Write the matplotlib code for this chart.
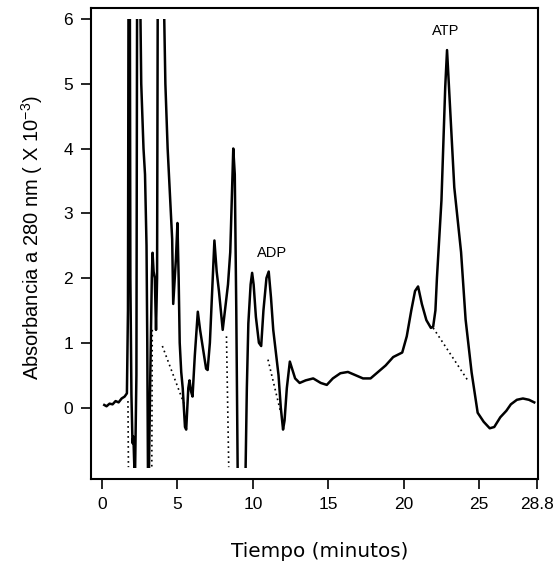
"""
Cromatograma HPLC: absorbancia a 280 nm frente al tiempo (ADP / ATP).
Salida: out.png (560x570)
"""

import matplotlib
matplotlib.use("Agg")
import matplotlib.pyplot as plt
from matplotlib.patches import Rectangle

# ── datos leídos del cromatograma (minutos, absorbancia x10^-3) ──
# valores fuera de escala (>6 o < -0.93) se recortan al dibujar
tiempo = [
    0.15, 0.3, 0.5, 0.7, 0.9, 1.1, 1.3, 1.5, 1.65, 1.72, 1.76, 1.84, 1.88, 1.95,
    2.02, 2.08, 2.18, 2.28, 2.33, 2.5, 2.6, 2.75, 2.85, 2.95, 3.0, 3.05, 3.1,
    3.2, 3.3, 3.35, 3.42, 3.5, 3.58, 3.65, 3.7, 4.05, 4.2, 4.35, 4.5, 4.65,
    4.72, 4.8, 4.9, 5.0, 5.08, 5.15, 5.25, 5.35, 5.5, 5.58, 5.72, 5.8, 5.9,
    6.0, 6.15, 6.35, 6.5, 6.7, 6.9, 7.0, 7.15, 7.3, 7.45, 7.6, 7.75, 8.0,
    8.15, 8.35, 8.5, 8.6, 8.7, 8.8, 8.9, 9.0, 9.5, 9.6, 9.7, 9.85, 9.95,
    10.05, 10.2, 10.4, 10.55, 10.7, 10.9, 11.05, 11.2, 11.35, 11.5, 11.7,
    11.85, 12.0, 12.1, 12.25, 12.45, 12.6, 12.8, 13.1, 13.5, 14.0, 14.5,
    14.9, 15.3, 15.8, 16.3, 16.8, 17.3, 17.8, 18.3, 18.8, 19.3, 19.9, 20.2,
    20.5, 20.75, 20.95, 21.2, 21.5, 21.8, 21.95, 22.1, 22.2, 22.5, 22.6,
    22.75, 22.87, 23.0, 23.35, 23.8, 24.1, 24.5, 24.9, 25.3, 25.7, 26.0,
    26.4, 26.8, 27.1, 27.5, 27.9, 28.3, 28.65,
]
absorbancia = [
    0.04, 0.02, 0.06, 0.05, 0.10, 0.08, 0.14, 0.17, 0.22, 1.5, 7.0, 7.0, 2.0, 0.2,
    -0.55, -0.45, -1.2, 0.5, 7.0, 7.0, 5.0, 4.0, 3.6, 2.5, 1.0, -1.2, -1.2,
    0.5, 2.0, 2.39, 2.1, 2.0, 1.2, 2.0, 7.0, 7.0, 5.0, 4.0, 3.3, 2.6,
    1.6, 1.9, 2.3, 2.85, 2.0, 1.0, 0.55, 0.3, -0.3, -0.34, 0.3, 0.42, 0.25,
    0.17, 0.8, 1.48, 1.2, 0.9, 0.6, 0.58, 1.0, 1.8, 2.58, 2.1, 1.8, 1.2,
    1.5, 1.9, 2.4, 3.2, 4.0, 3.6, 1.5, -1.2, -1.2, 0.3, 1.3, 1.9, 2.08,
    1.9, 1.4, 1.0, 0.95, 1.5, 2.0, 2.1, 1.7, 1.2, 0.9, 0.5,
    0.0, -0.34, -0.2, 0.3, 0.71, 0.6, 0.45, 0.38, 0.42, 0.45, 0.38,
    0.35, 0.45, 0.53, 0.55, 0.50, 0.45, 0.45, 0.55, 0.65, 0.78, 0.85, 1.1,
    1.5, 1.8, 1.87, 1.6, 1.35, 1.23, 1.25, 1.5, 2.0, 3.2, 3.9,
    4.95, 5.52, 4.95, 3.4, 2.4, 1.36, 0.54, -0.08, -0.22, -0.32, -0.30,
    -0.15, -0.05, 0.05, 0.12, 0.14, 0.12, 0.08,
]

# líneas base punteadas (t0, t1, y0, y1)
base_t0 = [1.72, 3.33, 4.0, 8.25, 11.0, 21.95]
base_t1 = [1.75, 3.30, 5.45, 8.40, 11.85, 24.3]
base_y0 = [0.10, 1.20, 0.95, 1.10, 0.74, 1.23]
base_y1 = [-0.92, -0.92, 0.05, -0.92, -0.08, 0.40]

picos = ["ADP", "ATP"]
picos_t = [11.3, 22.75]
picos_y = [2.38, 5.82]

xticks = [0, 5, 10, 15, 20, 25, 28.8]
xticklabels = ["0", "5", "10", "15", "20", "25", "28.8"]
yticks = [0, 1, 2, 3, 4, 5, 6]

Y_MIN_VISIBLE = -0.93
Y_MAX_VISIBLE = 6.0


def main():
    plt.rcParams["font.family"] = ["Liberation Sans", "DejaVu Sans"]
    plt.rcParams["mathtext.default"] = "regular"

    fig = plt.figure(figsize=(5.6, 5.7), dpi=100)
    ax = fig.add_axes([0.1625, 0.16, 0.7985, 0.826])

    # recorte: el registrador satura por arriba y por abajo
    clip = Rectangle((-1, Y_MIN_VISIBLE), 31, Y_MAX_VISIBLE - Y_MIN_VISIBLE,
                     transform=ax.transData)

    line, = ax.plot(tiempo, absorbancia, color="black", lw=1.8)
    line.set_clip_path(clip)

    for t0, t1, y0, y1 in zip(base_t0, base_t1, base_y0, base_y1):
        ax.plot([t0, t1], [y0, y1], color="black", lw=1.2, ls=(0, (1, 2)))

    for txt, t, y in zip(picos, picos_t, picos_y):
        ax.text(t, y, txt, ha="center", va="center", fontsize=10.5)

    ax.set_xlim(-0.73, 28.91)
    ax.set_ylim(-1.1, 6.17)
    ax.set_xticks(xticks)
    ax.set_xticklabels(xticklabels)
    ax.set_yticks(yticks)
    ax.tick_params(direction="out", length=7, width=1.2, labelsize=12.5, pad=6)
    for s in ax.spines.values():
        s.set_linewidth(1.5)

    ax.set_xlabel("Tiempo (minutos)", fontsize=14.4, family=["DejaVu Sans"])
    ax.xaxis.set_label_coords(0.512, -0.134)
    ax.set_ylabel(r"Absorbancia a 280 nm ( X 10$^{-3}$)", fontsize=14.5)
    ax.yaxis.set_label_coords(-0.103, 0.513)

    fig.savefig("out.png", dpi=100)
    plt.close(fig)


if __name__ == "__main__":
    main()
